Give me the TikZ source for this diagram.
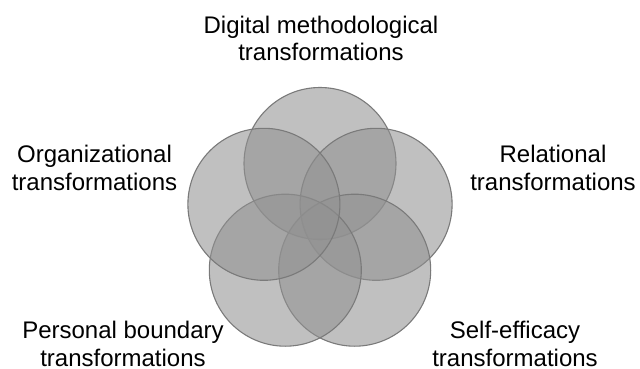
\documentclass[tikz,border=0pt]{standalone}
\usepackage{fontspec}
\setmainfont{Liberation Sans}
\begin{document}
\begin{tikzpicture}[x=1pt,y=-1pt,
  petal/.style={circle, minimum size=152pt, inner sep=0pt,
    fill=black!43, fill opacity=0.57, draw=black!52, draw opacity=1, line width=1.1pt},
  caption/.style={align=center, inner sep=0pt, anchor=base,
    font=\fontsize{24}{28}\selectfont}]
  \useasboundingbox (0,0) rectangle (640,369);
  % five overlapping circles on a regular pentagon
  \node[petal] (digital)  at (320,163.5) {};
  \node[petal] (relation) at (376.1,204.3) {};
  \node[petal] (selfeff)  at (354.7,270.2) {};
  \node[petal] (personal) at (285.3,270.2) {};
  \node[petal] (organiz)  at (263.9,204.3) {};
  % captions (anchored at the baseline of their last line)
  \node[caption] (tdigital)  at (321,61)    {Digital methodological\\transformations};
  \node[caption] (torganiz)  at (94.5,190)  {Organizational\\transformations};
  \node[caption] (trelation) at (553,190)   {Relational\\transformations};
  \node[caption] (tpersonal) at (123,366)   {Personal boundary\\transformations};
  \node[caption] (tselfeff)  at (515,366)   {Self-efficacy\\transformations};
\end{tikzpicture}
\end{document}
